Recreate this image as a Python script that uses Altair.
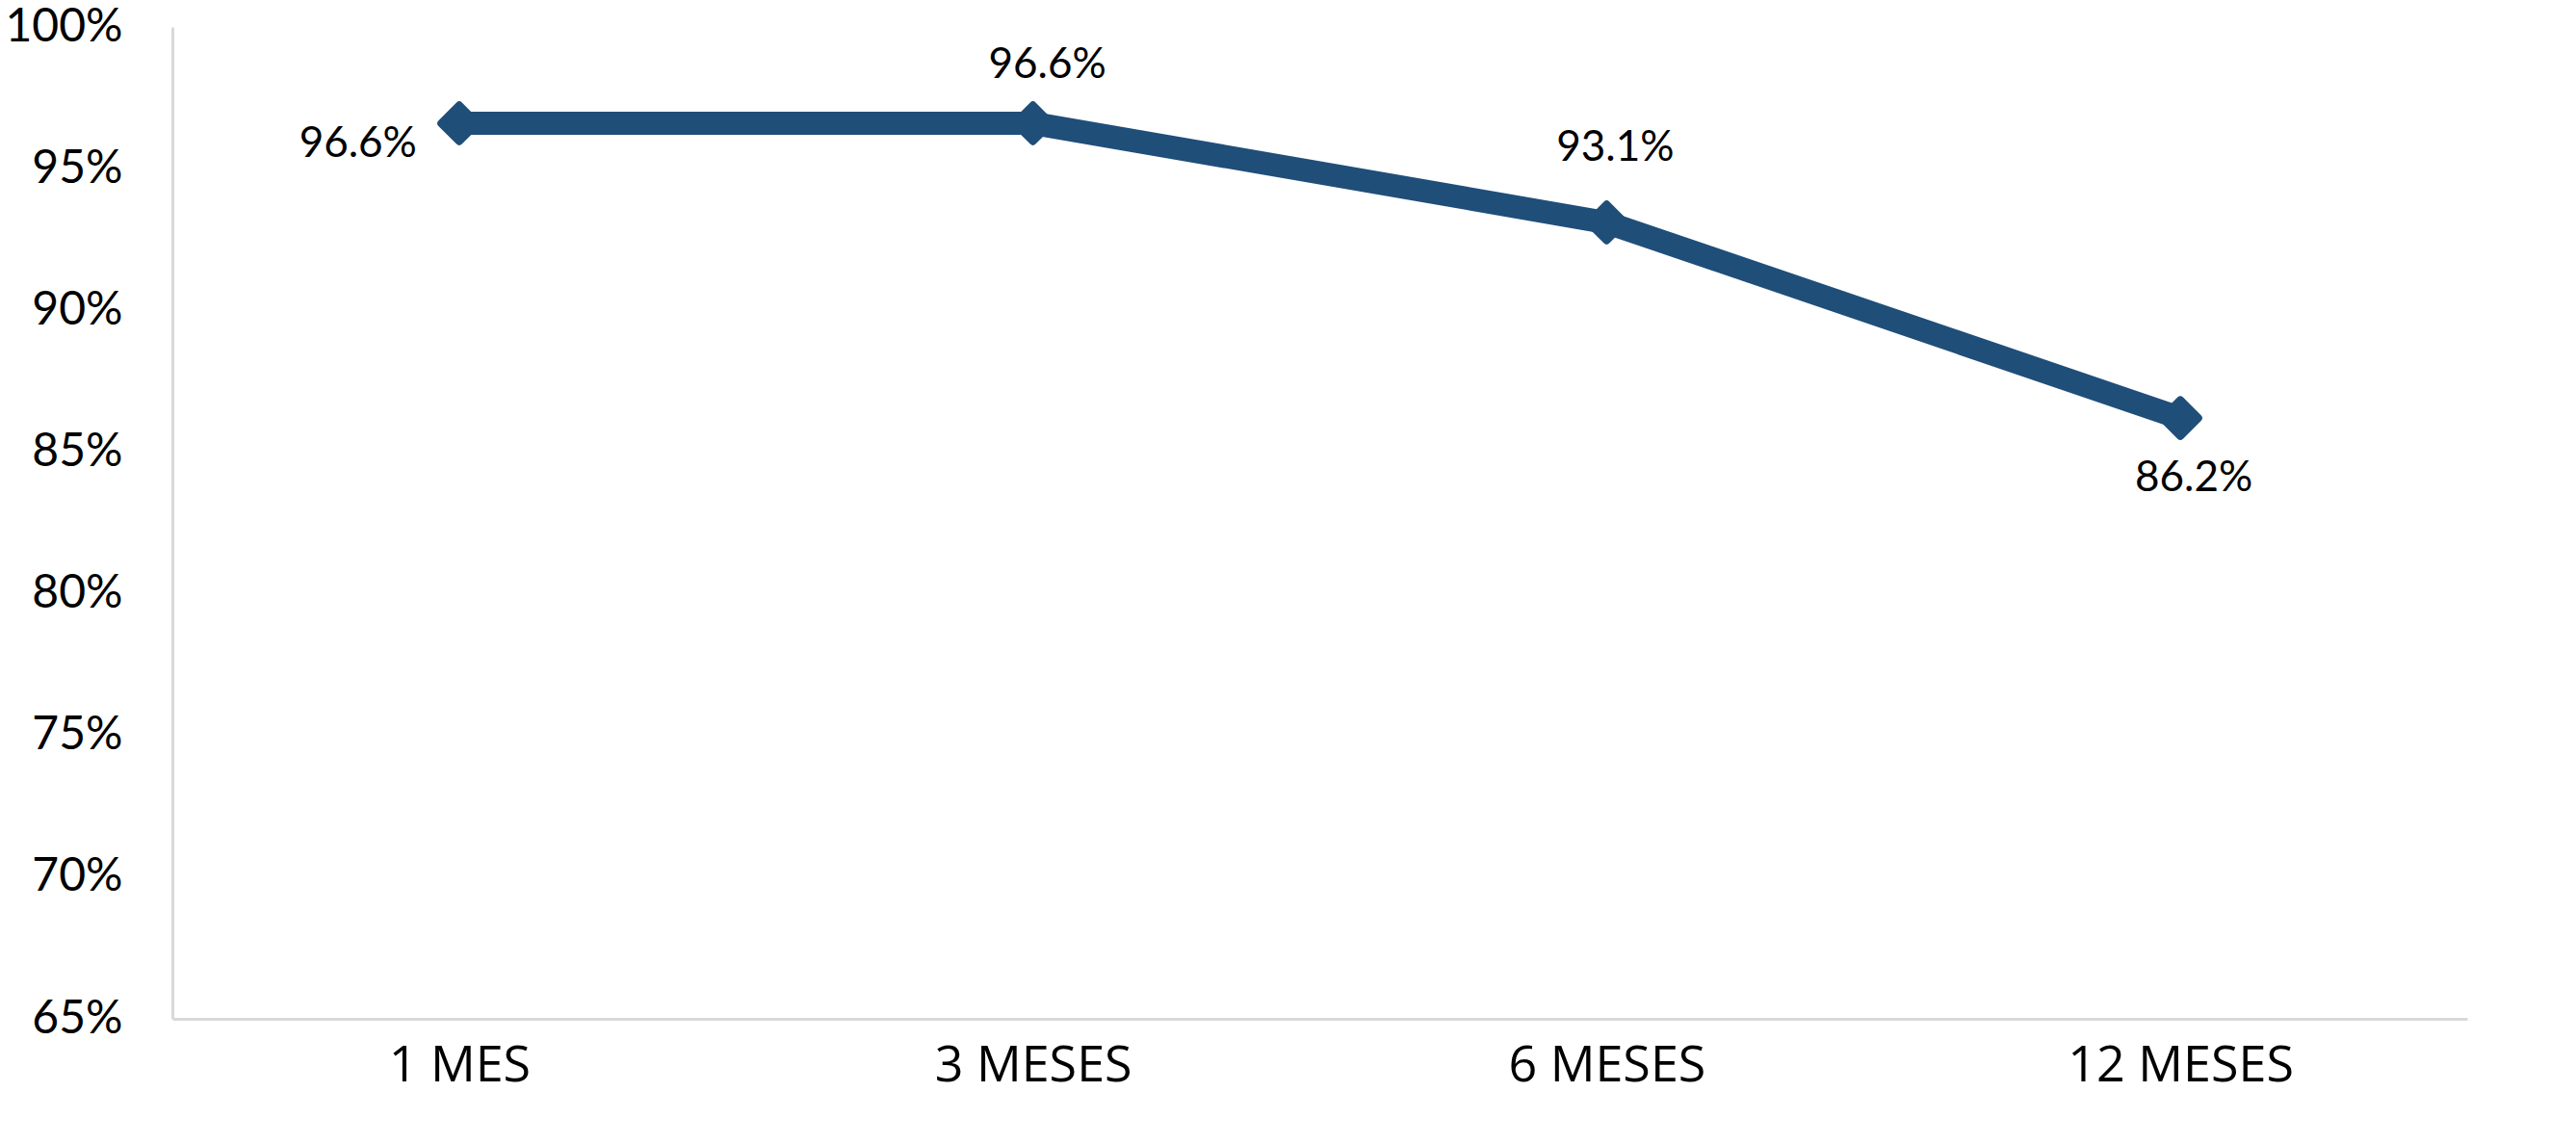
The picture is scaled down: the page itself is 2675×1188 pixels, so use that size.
import altair as alt
import pandas as pd

periods = ["1 MES", "3 MESES", "6 MESES", "12 MESES"]
values = [96.6, 96.6, 93.1, 86.2]
labels = ["96.6%", "96.6%", "93.1%", "86.2%"]

df = pd.DataFrame({"periodo": periods, "valor": values, "etiqueta": labels})

FONT = "Lato"
XFONT = "Open Sans"
BLUE = "#1F4E79"

x = alt.X("periodo:N", sort=periods, title=None,
          scale=alt.Scale(padding=0.5),
          axis=alt.Axis(labelAngle=0, labelFontSize=52, labelFont=XFONT, labelColor="#000000",
                        ticks=False, domainColor="#d9d9d9", domainWidth=3,
                        labelBaseline="middle", labelPadding=48,
                        labelLimit=600, grid=False))
y = alt.Y("valor:Q", title=None,
          scale=alt.Scale(domain=[65, 100], nice=False, zero=False),
          axis=alt.Axis(values=[65, 70, 75, 80, 85, 90, 95, 100],
                        labelExpr="datum.value + '%'", labelFontSize=48, labelFont=FONT,
                        labelColor="#000000", ticks=False, domainColor="#d9d9d9",
                        domainWidth=3, labelPadding=52, grid=False))

base = alt.Chart(df).encode(x=x, y=y)

line = base.mark_line(color=BLUE, strokeWidth=24)
points = base.mark_point(shape="diamond", size=1400, filled=True, color=BLUE,
                         stroke=BLUE, strokeWidth=8, strokeJoin="round", opacity=1)

txt_kw = dict(font=FONT, fontSize=44, color="#000000", baseline="middle")
lab_left = base.mark_text(align="right", dx=-44, dy=22, **txt_kw).encode(
    text="etiqueta:N").transform_filter(alt.datum.periodo == "1 MES")
lab_above1 = base.mark_text(align="center", dx=15, dy=-60, **txt_kw).encode(
    text="etiqueta:N").transform_filter(alt.datum.periodo == "3 MESES")
lab_above2 = base.mark_text(align="center", dx=9, dy=-77, **txt_kw).encode(
    text="etiqueta:N").transform_filter(alt.datum.periodo == "6 MESES")
lab_below = base.mark_text(align="center", dx=14, dy=63, **txt_kw).encode(
    text="etiqueta:N").transform_filter(alt.datum.periodo == "12 MESES")

chart = alt.layer(line, points, lab_left, lab_above1, lab_above2, lab_below).properties(
    width=2383, height=1030,
    background="#ffffff",
    autosize=alt.AutoSizeParams(type="none"),
    padding={"left": 171, "top": 20, "right": 105, "bottom": 122},
).configure_view(strokeWidth=0, stroke="transparent")

chart.save("out.html", embed_options={"renderer": "svg", "actions": False})
